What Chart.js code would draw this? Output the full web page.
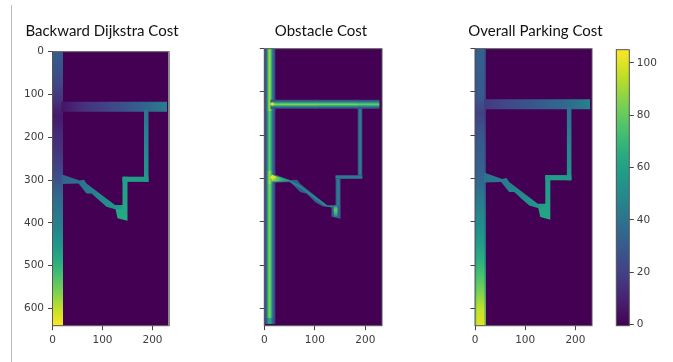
<!DOCTYPE html>
<html><head><meta charset="utf-8">
<script src="https://cdn.jsdelivr.net/npm/chart.js@4"></script>
<style>
html,body{margin:0;padding:0;background:#fff;width:673px;height:362px;overflow:hidden}
canvas{position:absolute;top:0;filter:blur(0.3px)}
#rule{position:absolute;left:11px;top:5px;width:1px;height:357px;background:#bdbdbd}
</style></head><body>
<div id="rule"></div>
<canvas id="c1" width="204" height="362" style="left:0"></canvas>
<canvas id="c2" width="162" height="362" style="left:240px"></canvas>
<canvas id="c3" width="171" height="362" style="left:450px"></canvas>
<canvas id="c4" width="73" height="362" style="left:600px"></canvas>
<script>
// ---- labels ----
const titles = ['Backward Dijkstra Cost','Obstacle Cost','Overall Parking Cost'];
const xTickValues = [0,100,200];
const yTickValues = [0,100,200,300,400,500,600];
const colorbarTicks = [0,20,40,60,80,100];

// ---- lane outlines, in map units ----
const mainLane   = [[-3,-10],[21,-10],[21,650],[-3,650]];
const crossLane  = [[18,117],[229,117],[229,140],[18,140]];
const branchLane = [[183,135],[192,135],[192,304],[183,304]];
const stepLane   = [[140,292],[192,292],[192,304],[140,304]];
const dropLane   = [[140,292],[150,292],[150,395],[130,389],[125,362],[140,358]];
const diagonal   = [[18,286],[54,301],[63,299],[68,308],[125,358],[140,358],[140,368],[125,368],[108,362],[92,346],[78,331],[68,331],[52,308],[18,309]];

// ---- backward Dijkstra cost read along each lane ----
const dijkstraMain   = [30,27,22,15,7,12,15,20,27,36,41,47,55,65,75,85,96,105];
const dijkstraCross  = [6,10,14,17,19,22,25,28,31,35,39,44];
const dijkstraBranch = [40,44,48,52,56];
const dijkstraStep   = [60,58,56];
const dijkstraDrop   = [58,60,62,64];
const dijkstraDiag   = [33,38,42,47,53,58];

// ---- obstacle cost across each lane ----
const obstacleMainA = [20,26,46,80,92,70,42,28,18];
const obstacleMainB = [20,26,46,80,94,72,42,28,18];
const obstacleMainC = [20,24,42,70,82,62,38,26,18];
const obstacleMainD = [20,26,46,76,86,68,40,26,18];
const obstacleMainE = [18,22,36,58,66,54,34,22,14];
const obstacleCrossA = [20,34,64,88,64,34,20];
const obstacleCrossB = [20,34,63,86,63,34,20];
const obstacleCrossC = [20,34,60,82,60,34,20];
const obstacleLane = [22,42,44,22];
const obstacleWedge = [86,64,46];
const obstacleBlob = [44,78,72,44];
const obstacleDiagOuter = [30];
const obstacleDiagInner = [50];
const obstacleKnot = [100];
const obsMainTop = [[0,-10],[22,-10],[22,122],[0,122]];
const obsMainMid = [[0,116],[22,116],[22,144],[0,144]];
const obsMainUp  = [[0,140],[22,140],[22,286],[0,286]];
const obsMainLow = [[0,306],[22,306],[22,626],[0,626]];
const obsMainJoin= [[0,282],[22,282],[22,312],[0,312]];
const obsMainEnd = [[0,622],[22,622],[22,636],[0,636]];
const obsCrossA  = [[12,118],[104,118],[104,139],[12,139]];
const obsCrossB  = [[100,118],[184,118],[184,139],[100,139]];
const obsCrossC  = [[180,118],[228,118],[228,139],[180,139]];
const obsBranch  = [[185,136],[194,136],[194,297],[185,297]];
const obsStep    = [[141,292],[194,292],[194,301],[141,301]];
const obsDrop    = [[141,296],[151,296],[151,366],[141,366]];
const obsFoot    = [[133,362],[151,362],[151,393],[133,388]];
const obsDiag    = [[18,289],[51,304],[65,303],[71,312],[125,362],[141,362],[141,368],[131,366],[115,364],[101,355],[84,335],[71,331],[51,308],[18,310]];
const obsWedge   = [[14,291],[52,304],[52,307],[14,307]];
const obsDiagCore= [[50,304],[71,316],[125,362],[135,362],[135,367],[120,364],[71,322],[50,308]];
const obsBlobCore= [[137,362],[145,362],[145,388],[138,388]];
const obsKnotA   = [[11,128],[16,124],[21,128],[16,132]];
const obsKnotB   = [[11,297],[16,291],[24,297],[16,303]];

// ---- overall parking cost along each lane ----
const overallMain   = [32,32,30,29,20,27,30,32,35,41,47,52,58,66,75,85,96,100];
const overallEdge   = [26,26,24,23,17,22,25,27,30,35,41,45,50,57,66,74,82,86];
const overallCross  = [18,20,22,24,26,28,30,33,35,38,41,46];
const overallBranch = [39,43,47,50,54];
const overallStep   = [60,58,56];
const overallDrop   = [56,58,60,62];
const overallDiag   = [40,42,45,49,54,60];
const edgeLeft  = [[-3,-10],[3,-10],[3,650],[-3,650]];
const edgeRight = [[18,-10],[21,-10],[21,650],[18,650]];

// ---- colour bar ----
const colorbarShape = [[0,-0.4],[1,-0.4],[1,105],[0,105]];
const colorbarStops = [0,5,10,15,20,25,30,35,40,45,50,55,60,65,70,75,80,85,90,95,100,105];

// ---- colour map ----
const VIRIDIS = ['#440154','#482475','#414487','#355f8d','#2a788e','#21918c','#22a884','#44bf70','#7ad151','#bddf26','#fde725'].map(h=>[1,3,5].map(i=>parseInt(h.substr(i,2),16)));
function viridis(v){
  const t = Math.max(0,Math.min(1,v/105))*10, i = Math.min(9,Math.floor(t)), f = t-i;
  const c = VIRIDIS[i].map((a,k)=>Math.round(a+(VIRIDIS[i+1][k]-a)*f));
  return `rgb(${c[0]},${c[1]},${c[2]})`;
}
function region(points, vals, from, to){
  return {data:points.map(p=>({x:p[0],y:p[1]})), vals, from, to, pointRadius:0, showLine:false};
}

const panel1 = [
  region(mainLane,dijkstraMain,[0,0],[0,640]),
  region(crossLane,dijkstraCross,[21,0],[229,0]),
  region(branchLane,dijkstraBranch,[0,138],[0,300]),
  region(stepLane,dijkstraStep,[140,0],[192,0]),
  region(dropLane,dijkstraDrop,[0,292],[0,395]),
  region(diagonal,dijkstraDiag,[20,0],[140,0])
];
const panel2 = [
  region(obsMainTop,obstacleMainA,[0,0],[22,0]),
  region(obsMainUp,obstacleMainC,[0,0],[22,0]),
  region(obsMainLow,obstacleMainD,[0,0],[22,0]),
  region(obsMainEnd,obstacleMainE,[0,0],[22,0]),
  region(obsMainMid,obstacleMainB,[0,0],[22,0]),
  region(obsMainJoin,obstacleMainB,[0,0],[22,0]),
  region(obsBranch,obstacleLane,[185,0],[194,0]),
  region(obsDrop,obstacleLane,[141,0],[151,0]),
  region(obsStep,obstacleLane,[0,292],[0,301]),
  region(obsFoot,obstacleDiagOuter),
  region(obsDiag,obstacleDiagOuter),
  region(obsWedge,obstacleWedge,[20,0],[52,0]),
  region(obsDiagCore,obstacleDiagInner),
  region(obsBlobCore,obstacleBlob,[0,362],[0,388]),
  region(obsCrossC,obstacleCrossC,[0,118],[0,139]),
  region(obsCrossB,obstacleCrossB,[0,118],[0,139]),
  region(obsCrossA,obstacleCrossA,[0,118],[0,139]),
  region(obsKnotA,obstacleKnot),
  region(obsKnotB,obstacleKnot)
];
const panel3 = [
  region(mainLane,overallMain,[0,0],[0,640]),
  region(edgeLeft,overallEdge,[0,0],[0,640]),
  region(edgeRight,overallEdge,[0,0],[0,640]),
  region(crossLane,overallCross,[21,0],[229,0]),
  region(branchLane,overallBranch,[0,138],[0,300]),
  region(stepLane,overallStep,[140,0],[192,0]),
  region(dropLane,overallDrop,[0,292],[0,395]),
  region(diagonal,overallDiag,[20,0],[140,0])
];

const heatPlugin = {
  id:'heat',
  beforeDatasetsDraw(chart){
    const {ctx,chartArea:a,scales} = chart, X = scales.x, Y = scales.y;
    const o = chart.options.plugins.heat;
    ctx.save();
    ctx.beginPath(); ctx.rect(a.left,a.top,a.width,a.height); ctx.clip();
    ctx.fillStyle = viridis(0); ctx.fillRect(a.left,a.top,a.width,a.height);
    ctx.filter = o.blur ? `blur(${o.blur}px)` : 'none';
    chart.data.datasets.forEach(ds=>{
      ctx.beginPath();
      ds.data.forEach((p,i)=>{
        const px=X.getPixelForValue(p.x), py=Y.getPixelForValue(p.y);
        i?ctx.lineTo(px,py):ctx.moveTo(px,py);
      });
      ctx.closePath();
      if(ds.vals.length===1){ ctx.fillStyle = viridis(ds.vals[0]); }
      else{
        const f=ds.from, t=ds.to;
        const horizontal = f[1]===t[1];
        const g = horizontal
          ? ctx.createLinearGradient(X.getPixelForValue(f[0]),0,X.getPixelForValue(t[0]),0)
          : ctx.createLinearGradient(0,Y.getPixelForValue(f[1]),0,Y.getPixelForValue(t[1]));
        ds.vals.forEach((v,i)=>g.addColorStop(i/(ds.vals.length-1),viridis(v)));
        ctx.fillStyle = g;
      }
      ctx.fill();
    });
    ctx.restore();
  },
  afterDatasetsDraw(chart){
    const {ctx,chartArea:a} = chart, o = chart.options.plugins.heat;
    ctx.save();
    ctx.strokeStyle = '#555'; ctx.lineWidth = 1;
    ctx.strokeRect(a.left,a.top,a.width,a.height);
    if(o.thickRight){
      ctx.strokeStyle='#8a8a8a'; ctx.lineWidth=2;
      ctx.beginPath(); ctx.moveTo(a.right,a.top); ctx.lineTo(a.right,a.bottom); ctx.stroke();
    }
    ctx.restore();
  }
};

const TICK = {family:'"DejaVu Sans"',size:10.5};
const TICKCOL = '#3c3c3c';
function setTicks(arr){ return s=>{ s.ticks = arr.map(v=>({value:v})); }; }

function panel(id,title,datasets,cfg){
  return new Chart(document.getElementById(id),{
    type:'scatter',
    data:{datasets},
    plugins:[heatPlugin],
    options:{
      responsive:false,animation:false,events:[],
      layout:{autoPadding:false,padding:0},
      plugins:{
        legend:{display:false},tooltip:{enabled:false},
        heat:{blur:cfg.blur,thickRight:cfg.thick},
        title:{display:true,text:title,color:'#111',align:'center',
          font:{family:'Lato',size:15,weight:'normal',lineHeight:1.2},
          padding:{top:22,bottom:cfg.titleGap}}
      },
      scales:{
        x:{type:'linear',min:0,max:233,
          afterBuildTicks:setTicks(xTickValues),
          afterFit(s){s.height=36.3;},
          border:{display:false},
          grid:{drawOnChartArea:false,tickLength:4.5,tickColor:'#444'},
          ticks:{font:TICK,color:TICKCOL,padding:4,maxRotation:0,autoSkip:false}},
        y:{type:'linear',min:0,max:640,reverse:true,
          afterBuildTicks:setTicks(yTickValues),
          afterFit(s){s.width=cfg.axis;},
          border:{display:false},
          grid:{drawOnChartArea:false,tickLength:4.5,tickColor:'#444'},
          ticks:{display:true,font:TICK,color:TICKCOL,padding:4,autoSkip:false,
            callback:v=>cfg.labels?String(v):''}},
        spacer:{type:'linear',position:'right',display:true,
          afterFit(s){s.width=cfg.right;},
          border:{display:false},grid:{display:false},ticks:{display:false}}
      }
    }
  });
}
panel('c1',titles[0],panel1,{titleGap:11.7,right:35,axis:52.5,labels:true,thick:true,blur:0.55});
panel('c2',titles[1],panel2,{titleGap:8.7,right:20,axis:24.3,labels:false,thick:false,blur:0.7});
panel('c3',titles[2],panel3,{titleGap:8.7,right:29,axis:25,labels:false,thick:false,blur:0.6});

new Chart(document.getElementById('c4'),{
  type:'scatter',
  data:{datasets:[region(colorbarShape,colorbarStops,[0,0],[0,105])]},
  plugins:[heatPlugin],
  options:{
    responsive:false,animation:false,events:[],
    layout:{autoPadding:false,padding:{left:16.3,top:49.7,right:0,bottom:36.3}},
    plugins:{legend:{display:false},tooltip:{enabled:false},heat:{blur:0}},
    scales:{
      x:{type:'linear',min:0,max:1,display:false},
      y:{type:'linear',position:'right',min:-0.4,max:105,
        afterBuildTicks:setTicks(colorbarTicks),
        afterFit(s){s.width=43.7;},
        border:{display:false},
        grid:{drawOnChartArea:false,tickLength:4.5,tickColor:'#444'},
        ticks:{font:TICK,color:TICKCOL,padding:3,autoSkip:false}}
    }
  }
});
</script>
</body></html>
